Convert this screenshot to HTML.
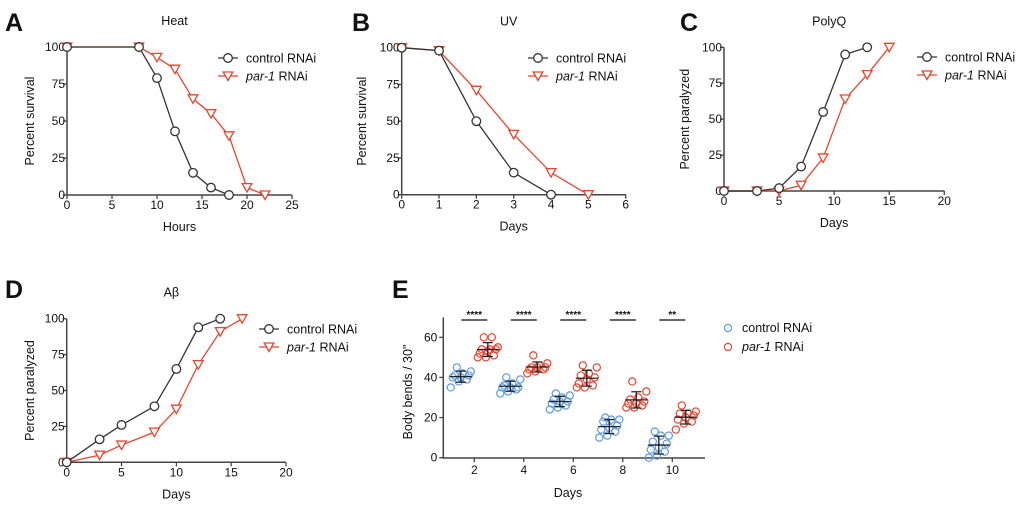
<!DOCTYPE html>
<html><head><meta charset="utf-8"><style>
body{margin:0;background:#fff}
svg{display:block;font-family:"Liberation Sans",Arial,sans-serif}
</style></head><body>
<svg id="fig" width="1020" height="510" viewBox="0 0 1020 510"></svg>
<script>
// ---- data ----
const aCtrlX=[0,8,10,12,14,16,18], aCtrlY=[100,100,79,43,15,5,0];
const aParX=[0,8,10,12,14,16,18,20,22], aParY=[100,100,93,85,65,55,40,5,0];
const bCtrlX=[0,1,2,3,4], bCtrlY=[100,98,50,15,0];
const bParX=[0,1,2,3,4,5], bParY=[100,98,71,41,15,0];
const cCtrlX=[0,3,5,7,9,11,13], cCtrlY=[0,0,2,17,55,95,100];
const cParX=[0,3,5,7,9,11,13,15], cParY=[0,0,0,4,23,64,81,100];
const dCtrlX=[0,3,5,8,10,12,14], dCtrlY=[0,16,26,39,65,94,100];
const dParX=[0,3,5,8,10,12,14,16], dParY=[0,5,12,21,37,68,91,100];
const pctTicks=[0,25,50,75,100];
const eDays=[2,4,6,8,10];
const eCtrl=[[35,38,39,40,40,41,41,42,43,45],[32,33,34,35,35,35,36,37,39,40],[24,25,26,27,28,28,29,30,31,32],[10,11,13,14,15,16,18,19,19,20],[0,1,3,4,5,7,8,11,11,13]];
const ePar=[[50,50,51,52,53,54,54,54,55,60,60],[42,43,44,44,45,45,45,46,47,51],[35,35,36,37,39,40,41,42,45,46],[25,25,26,27,27,28,29,30,33,38],[14,17,18,19,20,21,22,22,23,26]];
const eSig=["****","****","****","****","**"];
const eYTicks=[0,20,40,60];

const NS="http://www.w3.org/2000/svg", svg=document.getElementById('fig');
function mk(tag,attrs,parent,text){const e=document.createElementNS(NS,tag);for(const k in attrs)e.setAttribute(k,attrs[k]);if(text!=null)e.textContent=text;(parent||svg).appendChild(e);return e;}
const RED="#e8452c", BLK="#333", BLUE="#5b9be6";

function marker(g,x,y,type,color){
  let m;
  if(type==='c'){m=mk('circle',{cx:x,cy:y,r:4.3,fill:'#fff',stroke:color,'stroke-width':1.3},g);}
  else{m=mk('polygon',{points:`${x-4.8},${y-4} ${x+4.8},${y-4} ${x},${y+4.5}`,fill:'#fff',stroke:color,'stroke-width':1.3},g);}
  
  
}

function linePanel(p){
  const g=mk('g',{},svg);
  
  
  const sx=v=>p.x0+(v-p.xmin)/(p.xmax-p.xmin)*(p.x1-p.x0);
  const sy=v=>p.y0-(v/100)*(p.y0-p.y1);
  let t=mk('text',{x:p.lx,y:p.ly,'font-size':25,'font-weight':'bold',fill:'#111'},g,p.letter);
  
  t=mk('text',{x:(p.x0+p.x1)/2-5,y:p.y1-22,'font-size':12.5,'text-anchor':'middle',fill:'#111'},g,p.title);
  
  const ax=mk('path',{d:`M${p.x0},${p.y1} V${p.y0} H${p.x1}`,stroke:'#444','stroke-width':1.5,fill:'none'},g);
  
  p.xticks.forEach(v=>{const x=sx(v);mk('line',{x1:x,x2:x,y1:p.y0,y2:p.y0+4,stroke:'#444','stroke-width':1.3},g);
    const l=mk('text',{x:x,y:p.y0+14,'font-size':12,'text-anchor':'middle',fill:'#111'},g,v);
    });
  pctTicks.forEach(v=>{const y=sy(v);mk('line',{x1:p.x0-4,x2:p.x0,y1:y,y2:y,stroke:'#444','stroke-width':1.3},g);
    const l=mk('text',{x:p.x0-2,y:y+4,'font-size':12,'text-anchor':'end',fill:'#111'},g,v);
    });
  t=mk('text',{x:(p.x0+p.x1)/2,y:p.y0+36,'font-size':12.5,'text-anchor':'middle',fill:'#111'},g,p.xlabel);
  
  const yc=(p.y0+p.y1)/2;
  t=mk('text',{x:p.ylx,y:yc,'font-size':12.5,'text-anchor':'middle',fill:'#111',transform:`rotate(-90 ${p.ylx} ${yc})`},g,p.ylabel);
  
  [[p.px,p.py,RED,'t','par1-series'],[p.cx,p.cy,BLK,'c','control-series']].forEach(([xs,ys,col,type,nm])=>{
    const s=mk('g',{},g);
    mk('polyline',{points:xs.map((x,i)=>sx(x)+','+sy(ys[i])).join(' '),fill:'none',stroke:col,'stroke-width':1.3},s);
    xs.forEach((x,i)=>marker(s,sx(x),sy(ys[i]),type,col));
  });
  const lg=mk('g',{},g);
  mk('line',{x1:p.legx-10,x2:p.legx+10,y1:p.legy,y2:p.legy,stroke:BLK,'stroke-width':1.3},lg);
  marker(lg,p.legx,p.legy,'c',BLK);
  t=mk('text',{x:p.legx+18,y:p.legy+4.5,'font-size':12.5,fill:'#111'},lg,'control RNAi');
  
  mk('line',{x1:p.legx-10,x2:p.legx+10,y1:p.legy+18,y2:p.legy+18,stroke:RED,'stroke-width':1.3},lg);
  marker(lg,p.legx,p.legy+18,'t',RED);
  t=mk('text',{x:p.legx+18,y:p.legy+22.5,'font-size':12.5,fill:'#111'},lg);
  
  mk('tspan',{'font-style':'italic'},t,'par-1');mk('tspan',{},t,' RNAi');
}

linePanel({name:'panel-a-heat',letter:'A',lx:5,ly:31,title:'Heat',x0:67,x1:292,y0:195,y1:47,xmin:0,xmax:25,xticks:[0,5,10,15,20,25],xlabel:'Hours',ylabel:'Percent survival',ylx:34,legx:228,legy:58,cx:aCtrlX,cy:aCtrlY,px:aParX,py:aParY});
linePanel({name:'panel-b-uv',letter:'B',lx:352,ly:31,title:'UV',x0:401.7,x1:625.7,y0:194.7,y1:47.7,xmin:0,xmax:6,xticks:[0,1,2,3,4,5,6],xlabel:'Days',ylabel:'Percent survival',ylx:366,legx:538,legy:58,cx:bCtrlX,cy:bCtrlY,px:bParX,py:bParY});
linePanel({name:'panel-c-polyq',letter:'C',lx:680,ly:31,title:'PolyQ',x0:724,x1:944.3,y0:191,y1:47.3,xmin:0,xmax:20,xticks:[0,5,10,15,20],xlabel:'Days',ylabel:'Percent paralyzed',ylx:689,legx:927,legy:57,cx:cCtrlX,cy:cCtrlY,px:cParX,py:cParY});
linePanel({name:'panel-d-abeta',letter:'D',lx:5,ly:298,title:'Aβ',x0:66.7,x1:286,y0:462.3,y1:318.7,xmin:0,xmax:20,xticks:[0,5,10,15,20],xlabel:'Days',ylabel:'Percent paralyzed',ylx:34,legx:269,legy:329,cx:dCtrlX,cy:dCtrlY,px:dParX,py:dParY});

// ---- Panel E ----
(function(){
  const g=mk('g',{},svg);
  
  
  const X0=443.3,X1=705,Y0=458,YT=317.5;
  const sy=v=>457.7-v/60*(457.7-337.3);
  const sx=d=>474.3+(d-2)/2*49.5;
  let t=mk('text',{x:392,y:298,'font-size':25,'font-weight':'bold',fill:'#111'},g,'E');
  
  const ax=mk('path',{d:`M${X0},${YT} V${Y0} H${X1}`,stroke:'#444','stroke-width':1.5,fill:'none'},g);
  
  eYTicks.forEach(v=>{const y=sy(v);mk('line',{x1:X0-4,x2:X0,y1:y,y2:y,stroke:'#444','stroke-width':1.3},g);
    const l=mk('text',{x:X0-6,y:y+4,'font-size':12,'text-anchor':'end',fill:'#111'},g,v);
    });
  eDays.forEach((d,i)=>{
    const x=sx(d);
    mk('line',{x1:x,x2:x,y1:Y0,y2:Y0+4,stroke:'#444','stroke-width':1.3},g);
    const l=mk('text',{x:x,y:Y0+16,'font-size':12,'text-anchor':'middle',fill:'#111'},g,d);
    
    const sb=mk('line',{x1:x-13,x2:x+13,y1:320,y2:320,stroke:'#333','stroke-width':1.5},g);
    
    const st=mk('text',{x:x,y:318,'font-size':10,'font-weight':'bold','text-anchor':'middle',fill:'#111'},g,eSig[i]);
    
    [[eCtrl[i],BLUE,-13.5,'control-group'],[ePar[i],RED,13.5,'par1-group']].forEach(([vals,col,off,nm])=>{
      const gg=mk('g',{},g);
      const cx=x+off;
      vals.forEach((v,k)=>{
        const jit=((k*37)%11-5)*2.0;
        const c=mk('circle',{cx:cx+jit,cy:sy(v),r:3.6,fill:'none',stroke:col,'stroke-width':1.2},gg);
        
      });
      const m=vals.reduce((a,b)=>a+b,0)/vals.length;
      const sd=Math.sqrt(vals.reduce((a,b)=>a+(b-m)*(b-m),0)/(vals.length-1));
      const eb=mk('path',{d:`M${cx-11},${sy(m)} H${cx+11} M${cx},${sy(m+sd)} V${sy(m-sd)} M${cx-5},${sy(m+sd)} H${cx+5} M${cx-5},${sy(m-sd)} H${cx+5}`,stroke:'#222','stroke-width':1.3,fill:'none'},gg);
      
    });
  });
  t=mk('text',{x:568,y:497,'font-size':12.5,'text-anchor':'middle',fill:'#111'},g,'Days');
  
  t=mk('text',{x:412,y:392,'font-size':12.5,'text-anchor':'middle',fill:'#111',transform:'rotate(-90 412 392)'},g,'Body bends / 30"');
  
  const lg=mk('g',{},g);
  mk('circle',{cx:728,cy:328,r:3.6,fill:'none',stroke:BLUE,'stroke-width':1.2},lg);
  t=mk('text',{x:742,y:332,'font-size':12.5,fill:'#111'},lg,'control RNAi');
  
  mk('circle',{cx:728,cy:347,r:3.6,fill:'none',stroke:RED,'stroke-width':1.2},lg);
  t=mk('text',{x:742,y:351,'font-size':12.5,fill:'#111'},lg);
  
  mk('tspan',{'font-style':'italic'},t,'par-1');mk('tspan',{},t,' RNAi');
})();
</script>
</body></html>
